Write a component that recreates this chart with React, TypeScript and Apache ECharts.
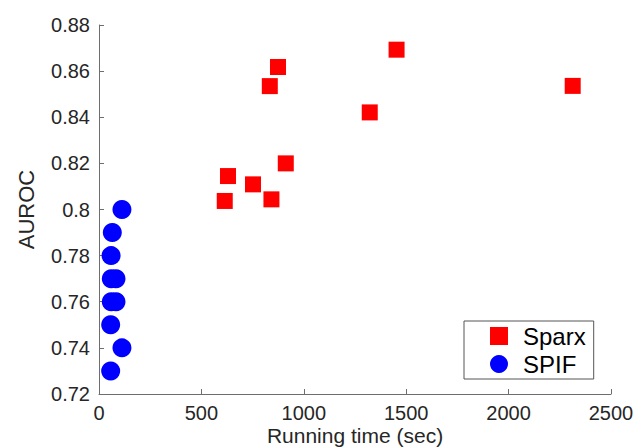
import React, { useEffect, useRef } from "react";
import * as echarts from "echarts";

const sparxTime = [874, 834, 912, 630, 752, 614, 842, 1453, 1322, 2313];
const sparxAuroc = [0.8618, 0.8535, 0.82, 0.8145, 0.8109, 0.8037, 0.8044, 0.8693, 0.8421, 0.8536];
const spifTime = [112, 65, 59, 60, 83, 60, 83, 57, 112, 57];
const spifAuroc = [0.8, 0.79, 0.78, 0.77, 0.77, 0.76, 0.76, 0.75, 0.74, 0.73];
const xTicks = { min: 0, max: 2500, interval: 500 };
const yTicks = { min: 0.72, max: 0.88, interval: 0.02 };

export default function App() {
  const ref = useRef<HTMLDivElement>(null);
  useEffect(() => {
    const chart = echarts.init(ref.current!, null, { renderer: "svg" });
    const font = "'Liberation Sans', Arial, Helvetica, sans-serif";
    const axisCommon = {
      axisLine: { show: true, lineStyle: { color: "#6e6e6e", width: 1 } },
      axisTick: { show: true, inside: true, length: 5, lineStyle: { color: "#6e6e6e" } },
      splitLine: { show: false },
      nameMoveOverlap: false,
      nameTextStyle: { fontFamily: font, fontSize: 22, color: "#262626" },
    };
    chart.setOption({
      animation: false,
      backgroundColor: "#fff",
      grid: { left: 99, right: 24, top: 25, bottom: 54, containLabel: false, outerBoundsMode: "none" },
      xAxis: {
        type: "value",
        ...xTicks,
        ...axisCommon,
        name: "Running time (sec)",
        nameLocation: "middle",
        nameGap: 29,
        nameTextStyle: { fontFamily: font, fontSize: 21, color: "#262626", lineHeight: 24 },
        axisLabel: {
          fontFamily: font,
          fontSize: 20,
          color: "#262626",
          margin: 9,
          formatter: (v: number) => String(v),
        },
      },
      yAxis: {
        type: "value",
        ...yTicks,
        ...axisCommon,
        name: "AUROC",
        nameLocation: "middle",
        nameGap: 62,
        axisLabel: {
          fontFamily: font,
          fontSize: 20,
          color: "#262626",
          margin: 9,
          formatter: (v: number) => String(Number(v.toFixed(2))),
        },
      },
      legend: {
        orient: "vertical",
        left: 464,
        top: 321,
        backgroundColor: "#fff",
        borderColor: "#555",
        borderWidth: 1,
        borderRadius: 0,
        padding: [3, 8, 3, 26],
        itemGap: 4,
        itemWidth: 18,
        itemHeight: 18,
        textStyle: { fontFamily: font, fontSize: 24, color: "#000", padding: [0, 0, 0, 10] },
        data: [
          { name: "Sparx", icon: "rect" },
          { name: "SPIF", icon: "circle" },
        ],
      },
      series: [
        {
          name: "Sparx",
          type: "scatter",
          symbol: "rect",
          symbolSize: 16,
          itemStyle: { color: "#ff0000", opacity: 1 },
          data: sparxTime.map((t, i) => [t, sparxAuroc[i]]),
        },
        {
          name: "SPIF",
          type: "scatter",
          symbol: "circle",
          symbolSize: 19,
          itemStyle: { color: "#0000ff", opacity: 1 },
          data: spifTime.map((t, i) => [t, spifAuroc[i]]),
        },
      ],
    });
    return () => chart.dispose();
  }, []);
  return <div ref={ref} style={{ width: 635, height: 448, position: "absolute", left: 0, top: 0 }} />;
}
